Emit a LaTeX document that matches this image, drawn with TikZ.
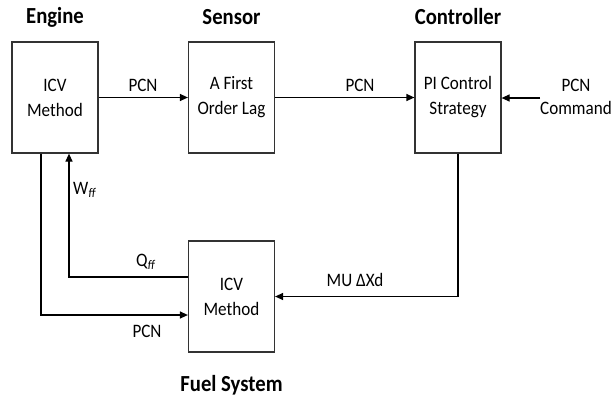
\documentclass[tikz,border=0pt]{standalone}
\usepackage{fontspec}
\setmainfont[FakeStretch=0.9]{Carlito}
\usetikzlibrary{arrows.meta,calc}
\begin{document}
\begin{tikzpicture}[x=1pt,y=-1pt,
  box/.style={draw=black!80,line width=1.2pt,minimum width=86pt,minimum height=111pt,inner sep=0pt,align=center,font=\fontsize{19}{25}\selectfont},
  ttl/.style={font=\fontsize{23}{26}\selectfont\bfseries,inner sep=0pt},
  lbl/.style={font=\fontsize{19}{23}\selectfont,inner sep=0pt,align=center},
  conn/.style={line width=1.2pt,draw=black},
  arr/.style={conn,-{Triangle[length=8pt,width=7pt]}}]
\useasboundingbox (0,0) rectangle (613,402);
\node[box] (eng) at (55,97.5) {ICV\\Method};
\node[box] (sen) at (231.5,97.5) {A First\\Order Lag};
\node[box] (ctl) at (458,97.5) {PI Control\\Strategy};
\node[box] (fuel) at (231.5,296.5) {ICV\\Method};
\node[ttl] (t1) at (55,17) {Engine};
\node[ttl] (t2) at (231.5,17) {Sensor};
\node[ttl] (t3) at (458,17) {Controller};
\node[ttl] (t4) at (231.5,385) {Fuel System};
\coordinate (cmd) at (540,98);
\draw[arr] (eng) -- (sen);
\draw[arr] (sen) -- (ctl);
\draw[arr] (cmd) -- (cmd -| ctl.east);
\draw[arr] (ctl.south) |- (fuel.east);
\draw[arr] ($(eng.south)+(-14,0)$) |- ($(fuel.west)+(0,18.5)$);
\draw[arr] ($(fuel.west)+(0,-19.5)$) -| ($(eng.south)+(14,0)$);
\node[lbl] (l1) at (143,85) {PCN};
\node[lbl] (l2) at (360,85) {PCN};
\node[lbl] (l3) at (576,97) {PCN\\Command};
\node[lbl] (l4) at (355,280) {MU ΔXd};
\node[lbl] (l5) at (146,262) {Q\textsubscript{\textit{ff}}};
\node[lbl] (l6) at (147,331) {PCN};
\node[lbl,anchor=west] (l7) at (73,190) {W\textsubscript{\textit{ff}}};
\end{tikzpicture}
\end{document}
